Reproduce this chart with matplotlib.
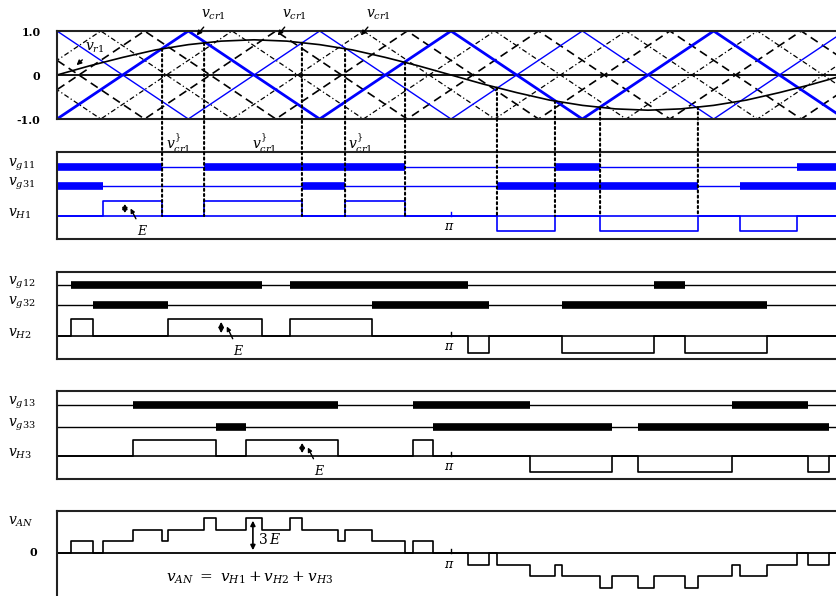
import numpy as np
import matplotlib
matplotlib.use("Agg")
import matplotlib.pyplot as plt
from matplotlib.patches import ConnectionPatch

plt.rcParams["font.family"] = ["DejaVu Serif"]
plt.rcParams["mathtext.fontset"] = "dejavuserif"

# ---- data (angles in degrees of the fundamental) ----
ref_deg = np.arange(0, 361, 15)
ref_val = [0.0, 0.21, 0.40, 0.57, 0.69, 0.77, 0.80, 0.77, 0.69, 0.57, 0.40, 0.21, 0.0,
           -0.21, -0.40, -0.57, -0.69, -0.77, -0.80, -0.77, -0.69, -0.57, -0.40, -0.21, 0.0]

# carriers: vertex angles and values
c1_deg = [0, 60, 120, 180, 240, 300, 360]
c1_val = [-1, 1, -1, 1, -1, 1, -1]
c2_deg = [-20, 40, 100, 160, 220, 280, 340, 400]
c2_val = [1, -1, 1, -1, 1, -1, 1, -1]
c3_deg = [-40, 20, 80, 140, 200, 260, 320, 380]
c3_val = [-1, 1, -1, 1, -1, 1, -1, 1]

# gate "on" intervals
g11_on = [(0, 48.0), (67.2, 159.0), (227.5, 248.1), (338.1, 360)]
g31_on = [(0, 21.0), (111.9, 131.6), (201.0, 292.8), (312.0, 360)]
g12_on = [(6.4, 93.7), (106.4, 187.8), (272.7, 286.9)]
g32_on = [(16.4, 50.7), (143.9, 197.4), (230.7, 324.4)]
g13_on = [(34.7, 128.4), (162.6, 216.1), (308.4, 343.1)]
g33_on = [(72.6, 86.3), (171.8, 253.5), (265.4, 352.7)]

# switching instants marked with dotted drop lines
mark_deg = [48.0, 67.2, 111.9, 131.6, 159.0, 201.0, 227.5, 248.1, 292.8]

W, H = 837, 596
BLUE = "#0000ff"


def box(top, bottom, left=57, right=845):
    return [left / W, 1 - bottom / H, (right - left) / W, (bottom - top) / H]


def state(on_list, t):
    return np.array([any(a <= x < b for a, b in on_list) for x in t], dtype=float)


def edges_of(*lists):
    e = {0.0, 360.0}
    for lst in lists:
        for a, b in lst:
            e.update([a, b])
    return np.array(sorted(e))


def clean(ax):
    ax.set_xlim(0, 360)
    ax.set_xticks([])
    ax.set_yticks([])
    for s in ax.spines.values():
        s.set_linewidth(1.5)
        s.set_color("#222222")


fig = plt.figure(figsize=(W / 100, H / 100), dpi=100)

# ---- panel 1: carriers and reference ----
ax1 = fig.add_axes(box(31, 119))
clean(ax1)
ax1.set_ylim(-1, 1)
ax1.axhline(0, color="black", lw=1.3)
ax1.plot(c2_deg, c2_val, color="black", lw=1.2, dashes=(5, 3))
ax1.plot(c2_deg, [-v for v in c2_val], color="black", lw=1.2, dashes=(5, 3))
ax1.plot(c3_deg, c3_val, color="black", lw=0.9, dashes=(4, 2, 1, 2))
ax1.plot(c3_deg, [-v for v in c3_val], color="black", lw=0.9, dashes=(4, 2, 1, 2))
ax1.plot(c1_deg, c1_val, color=BLUE, lw=2.0)
ax1.plot(c1_deg, [-v for v in c1_val], color=BLUE, lw=1.0)
ax1.plot(ref_deg, ref_val, color="black", lw=1.2)
ax1.set_yticks([-1, 0, 1])
ax1.set_yticklabels(["-1.0", "0", "1.0"], fontsize=8, fontweight="bold")
ax1.tick_params(axis="y", length=0, pad=12)

for x0 in [66, 103, 141]:
    ax1.annotate(r"$v_{cr1}$", xy=(x0 - 3, 0.85), xytext=(x0, 1.3), fontsize=10,
                 annotation_clip=False,
                 arrowprops=dict(arrowstyle="-|>", color="black", lw=1, mutation_scale=7))
ax1.annotate(r"$v_{r1}$", xy=(8, 0.18), xytext=(13, 0.55), fontsize=10,
             arrowprops=dict(arrowstyle="-|>", color="black", lw=1, mutation_scale=7))
for x0 in [50, 89, 133]:
    ax1.text(x0, -1.55, r"$v^{\}}_{cr1}$", fontsize=10, ha="left", va="center")


def gate_panel(top, bottom, rows, g1_on, g2_on, labels, color, e_deg):
    ax = fig.add_axes(box(top, bottom))
    clean(ax)
    ax.set_ylim(bottom, top)
    r1, r2, base, amp = rows
    for row, on in [(r1, g1_on), (r2, g2_on)]:
        ax.axhline(row, color=color, lw=1.0)
        for a, b in on:
            ax.plot([a, b], [row, row], color=color, lw=5.5, solid_capstyle="butt")
    ax.axhline(base, color=color, lw=1.2)
    t = edges_of(g1_on, g2_on)
    vh = state(g1_on, t) - state(g2_on, t)
    ax.plot(t, base - amp * vh, color=color, lw=1.2, drawstyle="steps-post")
    ax.plot([180, 180], [base, base - 4], color=color, lw=1)
    ax.text(179, base + 10, r"$\pi$", fontsize=9, ha="center", va="center")
    for row, lab in zip([r1, r2, base], labels):
        ax.text(-0.062, row - 2, lab, fontsize=10, ha="left", va="center",
                transform=ax.get_yaxis_transform())
    ax.annotate("", xy=(e_deg, base - amp), xytext=(e_deg, base),
                arrowprops=dict(arrowstyle="<|-|>", color="black", lw=1.2, mutation_scale=7))
    ax.annotate(r"$E$", xy=(e_deg + 2, base - amp + 5), xytext=(e_deg + 8, base + 15),
                fontsize=9, ha="center", va="center",
                arrowprops=dict(arrowstyle="-|>", color="black", lw=1, mutation_scale=6))
    return ax, base


ax2, base2 = gate_panel(152, 239, (167, 186, 216, 15), g11_on, g31_on,
                        [r"$v_{g11}$", r"$v_{g31}$", r"$v_{H1}$"], BLUE, 31)
ax3, _ = gate_panel(272, 359, (285, 305, 336, 17), g12_on, g32_on,
                    [r"$v_{g12}$", r"$v_{g32}$", r"$v_{H2}$"], "black", 75)
ax4, _ = gate_panel(391, 479, (405, 427, 456, 16), g13_on, g33_on,
                    [r"$v_{g13}$", r"$v_{g33}$", r"$v_{H3}$"], "black", 112)

# dotted drop lines from carrier intersections to the first cell output
for d in mark_deg:
    con = ConnectionPatch(xyA=(d, np.interp(d, ref_deg, ref_val)), coordsA=ax1.transData,
                          xyB=(d, base2), coordsB=ax2.transData,
                          color="black", lw=1.5, linestyle=(0, (1, 1.5)))
    fig.add_artist(con)

# ---- bottom: phase voltage ----
ax5 = fig.add_axes(box(511, 640))
clean(ax5)
ax5.set_ylim(640, 511)
base, step = 553, 11.7
t = edges_of(g11_on, g31_on, g12_on, g32_on, g13_on, g33_on)
van = (state(g11_on, t) - state(g31_on, t)
       + state(g12_on, t) - state(g32_on, t)
       + state(g13_on, t) - state(g33_on, t))
ax5.axhline(base, color="black", lw=1.3)
ax5.plot(t, base - step * van, color="black", lw=1.2, drawstyle="steps-post")
ax5.plot([180, 180], [base, base - 4], color="black", lw=1)
ax5.text(179, base + 11, r"$\pi$", fontsize=9, ha="center", va="center")
ax5.annotate("", xy=(89.5, base - 3 * step), xytext=(89.5, base),
             arrowprops=dict(arrowstyle="<|-|>", color="black", lw=1.2, mutation_scale=7))
ax5.text(92, base - 13, r"$3\,E$", fontsize=10, ha="left", va="center")
ax5.text(-0.062, 522, r"$v_{AN}$", fontsize=10, ha="left", va="center",
         transform=ax5.get_yaxis_transform())
ax5.text(-0.035, base, "0", fontsize=8, fontweight="bold", ha="left", va="center",
         transform=ax5.get_yaxis_transform())
ax5.text(88, 578, r"$v_{AN}\ =\ v_{H1} + v_{H2} + v_{H3}$", fontsize=11,
         ha="center", va="center")

fig.savefig("out.png", dpi=100)
